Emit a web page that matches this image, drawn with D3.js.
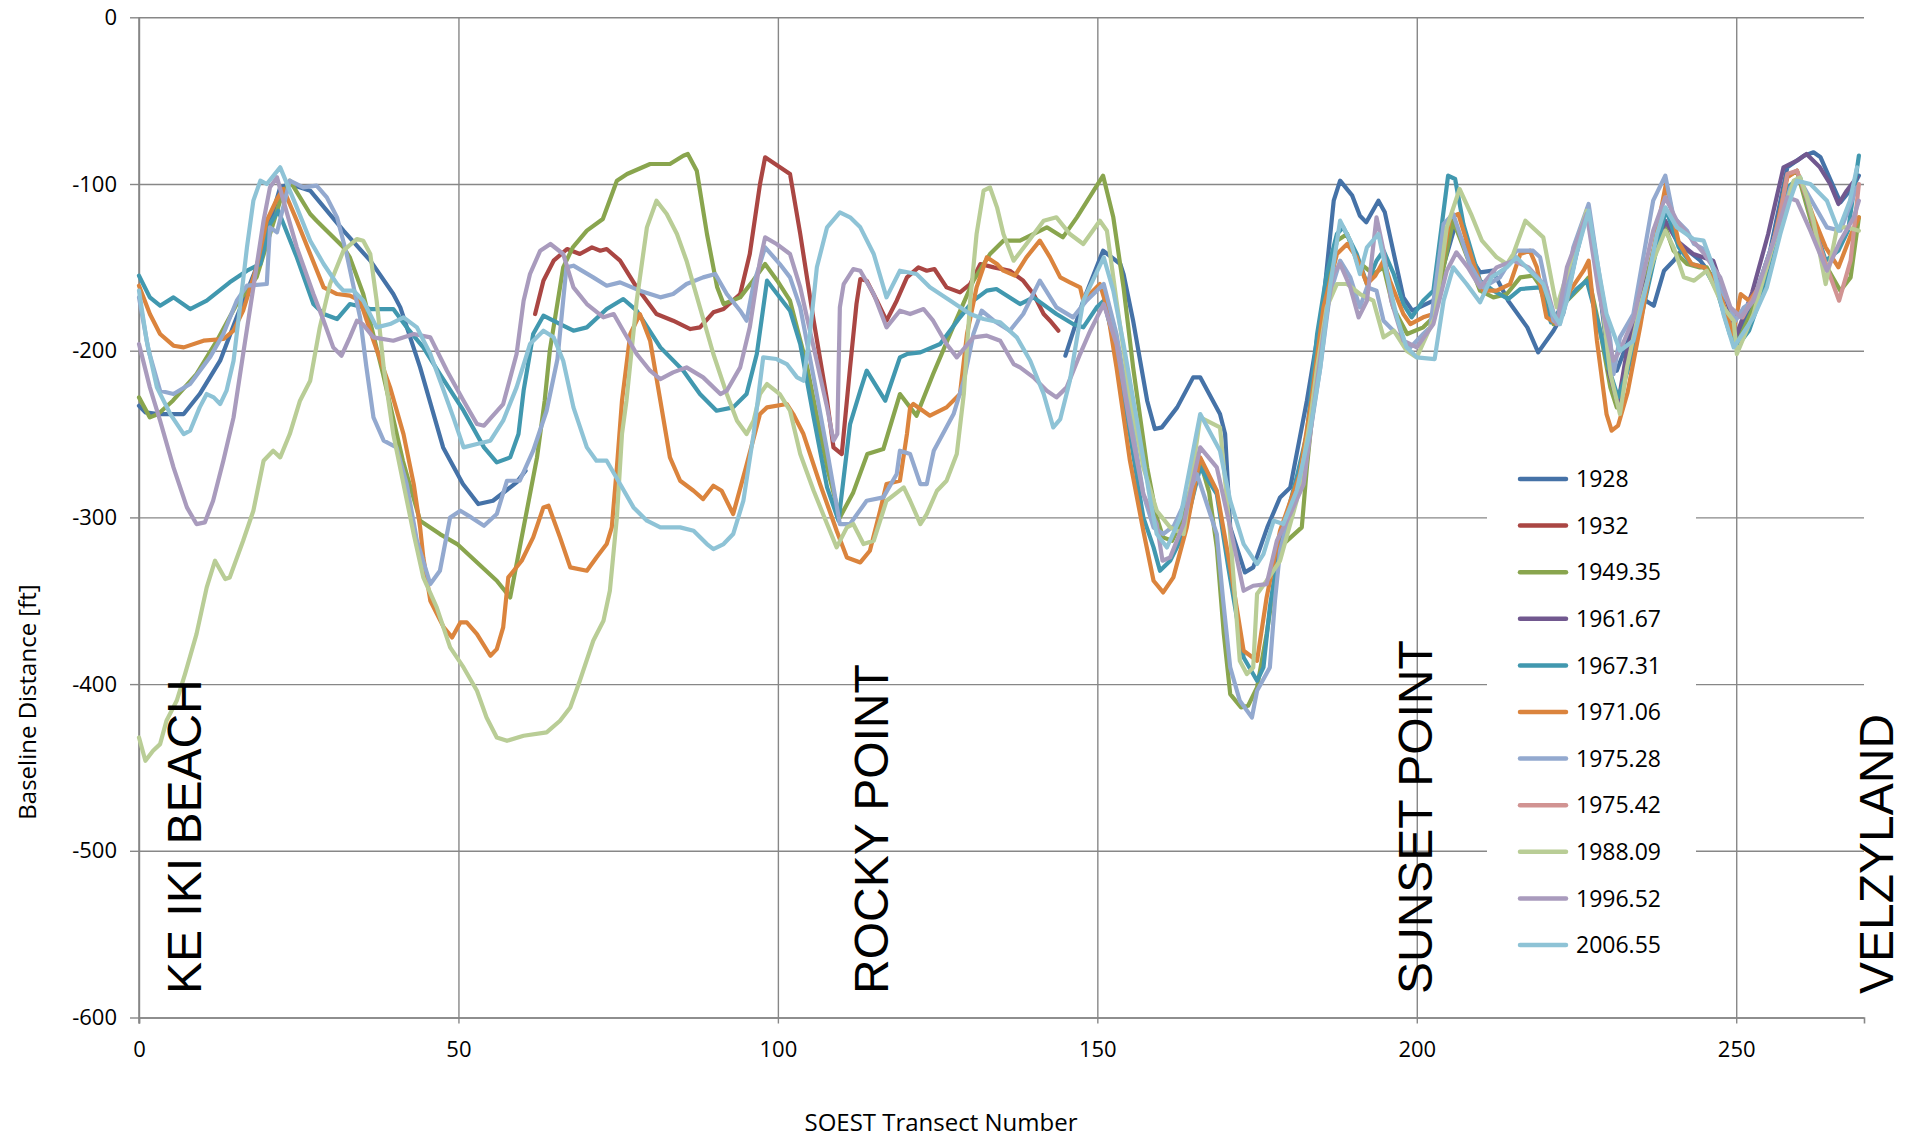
<!DOCTYPE html>
<html><head><meta charset="utf-8">
<script src="https://cdn.jsdelivr.net/npm/d3@7"></script>
<style>
html,body{margin:0;padding:0;background:#fff;}
svg{display:block;}
text{font-family:"Open Sans",sans-serif;fill:#000;}
</style></head>
<body>
<svg id="chart" width="1905" height="1137"></svg>
<script>
// ---------------- DATA ----------------
const years = ["1928","1932","1949.35","1961.67","1967.31","1971.06","1975.28","1975.42","1988.09","1996.52","2006.55"];
const transectTicks = [0,50,100,150,200,250];
const distanceTicks = [0,-100,-200,-300,-400,-500,-600];
const stationNames = ["KE IKI BEACH","ROCKY POINT","SUNSET POINT","VELZYLAND"];

// [transect, baseline distance]; null = gap in survey
const d1928 = [[0,-233],[1,-237],[3,-238],[7,-238],[9.5,-226],[12.7,-206],[15.3,-180],[18.4,-150],[20.5,-123],[22.1,-102],[23.6,-100],[26.8,-104],[32,-128],[36.2,-146],[39.8,-166],[40.9,-174],[44,-210],[47.6,-258],[50.7,-280],[53.1,-292],[55.4,-290],[59.1,-279],[60.5,-272],
 null,
 [145,-203],[147.8,-170],[150.9,-140],[153.6,-148],[154.1,-154],[155.6,-182],[157.8,-230],[159,-247],[160.1,-246],[162.5,-234],[165,-216],[166.1,-216],[169.2,-238],[170,-250],[170.8,-306],[173.1,-333],[174.4,-330],[176.6,-306],[178.6,-288],[180.2,-282],[182.8,-230],[185.4,-170],[187,-110],[188,-98],[189.9,-107],[191.1,-119],[192.1,-123],[194,-110],[195,-117],[196.3,-140],[197.9,-168],[199.3,-176],[202.6,-170],[204.5,-145],[206,-125],[207.8,-140],[209.9,-153],[211.9,-152],[214.3,-170],[217.3,-186],[219,-201],[221.4,-188],[222.9,-178],[224.8,-145],[226.8,-114],[228.5,-160],[229.8,-200],[231.3,-212],[233,-195],[235,-168],[237.1,-173],[238.7,-152],[240.2,-146],[241.8,-138],[244.4,-146],[247.5,-162],[249.5,-178],[250.1,-194],[252.7,-170],[255.3,-140],[258,-90],[260.6,-83],[262.1,-81],[263.2,-84],[264.8,-98],[266.3,-111],[268.4,-101],[269.2,-95]];

const d1932 = [[62,-178],[63.3,-158],[64.9,-146],[67,-139],[69,-142],[70.9,-138],[72.2,-140],[73.2,-139],[75.3,-146],[77.9,-162],[81,-178],[83.6,-182],[86.3,-187],[87.8,-186],[89.9,-177],[91.5,-175],[94.1,-166],[95.6,-142],[97.2,-100],[98,-84],[101.9,-94],[103.5,-130],[105.6,-182],[107.7,-230],[108.7,-258],[110,-262],[111.3,-210],[112.3,-172],[112.9,-157],[113.9,-158],[115.5,-170],[117,-182],[118.6,-170],[120.2,-156],[122,-150],[123.3,-152],[124.5,-151],[126.4,-162],[128.5,-165],[130.1,-160],[131.7,-148],[133.8,-150],[136.3,-152],[138.4,-158],[140,-166],[141.6,-178],[142.6,-182],[143.9,-188]];

const d1949 = [[0,-228],[1.7,-240],[3,-238],[5.3,-230],[9,-214],[12.2,-194],[15.3,-172],[18.4,-156],[20.5,-130],[22.1,-110],[23.6,-98],[26.8,-118],[27.8,-122],[32,-138],[33,-144],[35.1,-166],[38.2,-214],[41.3,-266],[44,-302],[47.1,-310],[49.8,-316],[56,-338],[58.1,-348],[59.6,-318],[62.3,-264],[63.5,-230],[64.3,-200],[66.4,-150],[67.9,-138],[70.1,-128],[72.6,-121],[74.8,-98],[76.4,-94],[80,-88],[83.1,-88],[85.2,-83],[85.9,-82],[87.3,-92],[88.9,-130],[90.5,-162],[91.5,-172],[94.1,-168],[96.1,-158],[98,-148],[99.9,-158],[101.9,-170],[104.6,-210],[107.7,-270],[109.7,-300],[111.8,-285],[114,-262],[116.5,-259],[119.1,-226],[120.7,-234],[121.7,-239],[124.3,-214],[127.4,-186],[130.6,-158],[133.2,-142],[135.3,-134],[137.9,-134],[142.1,-126],[144.6,-132],[146.8,-120],[150.9,-95],[152.5,-120],[154.1,-162],[155.6,-210],[157.8,-270],[159.3,-300],[160.3,-312],[161.7,-314],[163.5,-300],[166,-265],[167.5,-285],[168.7,-318],[169.8,-370],[170.8,-406],[172.5,-414],[173.6,-413],[175,-402],[176.5,-370],[178.2,-326],[179.1,-316],[182,-306],[182.8,-270],[184.4,-210],[186,-162],[187.5,-134],[189.1,-130],[190.6,-146],[193.2,-154],[194.8,-150],[196.3,-174],[198.5,-190],[201,-186],[202.6,-180],[205.7,-122],[207.3,-138],[209.9,-164],[212,-168],[214.1,-166],[216.2,-156],[218.2,-155],[219.8,-164],[221.4,-184],[223.5,-170],[225.6,-162],[226.9,-156],[228.7,-188],[230.3,-222],[231.3,-234],[232,-230],[234.4,-180],[237,-140],[238.9,-126],[240.2,-140],[242.3,-148],[244.3,-150],[245.4,-150],[247,-162],[248.5,-180],[250.1,-196],[252.7,-174],[255.3,-150],[257.9,-96],[259.5,-92],[262.1,-128],[264.2,-150],[266.3,-164],[267.9,-156],[269.2,-120]];

const d1961 = [[230,-212],[231.5,-232],[232.9,-200],[235,-170],[237.6,-138],[238.9,-122],[240.7,-134],[243.3,-142],[246.4,-146],[248.5,-170],[250.1,-190],[252.5,-165],[255,-130],[257.4,-90],[259.5,-86],[261,-82],[263.1,-90],[264.7,-100],[266,-112],[267.3,-104],[268.9,-96]];

const d1967 = [[0,-155],[1.7,-168],[3.3,-173],[5.4,-168],[8,-175],[10.6,-170],[14.2,-159],[16.9,-152],[19,-148],[20.5,-124],[21.8,-116],[24.7,-144],[27.3,-172],[28.9,-178],[31,-181],[33,-172],[36.2,-175],[39.8,-175],[41.9,-186],[44.5,-198],[47.1,-214],[50.8,-236],[54,-258],[56,-267],[58.1,-264],[59.4,-250],[60.2,-224],[61.7,-190],[63.3,-179],[66.4,-185],[68,-188],[70.1,-186],[73.2,-175],[75.8,-169],[77.9,-176],[81.6,-198],[85.2,-212],[87.8,-226],[90.4,-236],[93,-234],[95.1,-226],[96.7,-202],[98.3,-158],[101.9,-176],[103.5,-196],[105.6,-240],[107.7,-282],[109.5,-302],[110.3,-276],[111.3,-244],[112.9,-224],[113.9,-212],[116.8,-230],[119.1,-204],[120.2,-202],[122.3,-201],[125.4,-196],[128.5,-180],[130.6,-170],[132.7,-164],[134.2,-163],[137.9,-172],[140,-168],[143.6,-178],[146.2,-184],[147.8,-186],[149.9,-174],[151,-170],[153,-200],[155.1,-250],[157.2,-300],[158.8,-318],[159.8,-332],[161.4,-326],[163.5,-310],[166.1,-270],[168.7,-286],[170.5,-330],[172.9,-384],[175,-398],[176,-390],[177,-354],[178.6,-314],[181.2,-276],[182.8,-250],[184.4,-190],[185.9,-154],[187.5,-130],[188.5,-126],[190.6,-142],[192.2,-160],[193.7,-146],[194.8,-140],[196.4,-154],[197.9,-172],[199.2,-180],[201,-170],[202.6,-164],[204.9,-95],[206,-97],[207.3,-124],[209.9,-158],[212,-164],[214.3,-169],[216.2,-163],[219.3,-162],[221,-183],[223,-172],[225,-163],[226.6,-158],[228.5,-185],[230,-210],[231.5,-228],[233,-212],[235,-182],[237,-148],[239,-115],[241,-138],[243,-148],[245,-150],[247,-164],[249,-190],[250,-198],[252,-188],[254,-166],[256,-135],[258,-102],[260,-96],[262,-122],[264,-146],[266,-140],[267.5,-128],[269.2,-83]];

const d1971 = [[0,-161],[1.7,-178],[3.3,-190],[5.4,-197],[7,-198],[10.1,-194],[13.2,-193],[14.8,-188],[16.3,-176],[18.4,-150],[20,-122],[21.6,-109],[22.6,-103],[24.7,-122],[26.8,-142],[28.9,-162],[31,-166],[33,-167],[34.6,-170],[36.7,-194],[39.3,-222],[41.4,-250],[43,-280],[44,-306],[44.5,-324],[45.6,-350],[47.7,-366],[49,-372],[50.3,-363],[51.3,-363],[52.9,-370],[55,-383],[56,-379],[57,-366],[57.8,-336],[59.9,-326],[61.7,-312],[63.3,-294],[64.1,-293],[65.9,-312],[67.5,-330],[70.1,-332],[71.6,-324],[73.2,-316],[74,-306],[74.8,-270],[75.6,-230],[76.9,-190],[78.4,-178],[80,-194],[81.6,-230],[83.1,-264],[84.7,-278],[86.8,-284],[88.3,-289],[89.9,-281],[91.2,-284],[93,-298],[95,-270],[97.2,-238],[98.3,-234],[101.4,-232],[102.4,-238],[104,-250],[106.6,-280],[109.2,-308],[110.8,-324],[112.9,-327],[114.4,-320],[116,-296],[117,-280],[119.1,-278],[120.2,-250],[120.7,-234],[121.2,-232],[123.8,-239],[126.4,-234],[128.5,-226],[129.6,-190],[131.1,-162],[132.7,-144],[134.3,-148],[135.3,-152],[137.1,-155],[138.9,-144],[141,-134],[142.6,-144],[144.2,-156],[145.7,-159],[147.3,-162],[147.8,-170],[150.4,-160],[151.5,-174],[153,-210],[155.1,-266],[157.2,-308],[158.8,-338],[160.3,-345],[161.9,-336],[164,-306],[166.1,-264],[168.7,-284],[170.8,-330],[172.9,-380],[175,-386],[176.5,-348],[178.6,-308],[181.7,-274],[183.5,-230],[185.4,-174],[187.5,-142],[189.1,-136],[190.6,-144],[192.2,-160],[193.5,-155],[194.8,-146],[195.8,-158],[197.9,-178],[199,-184],[201,-180],[202.6,-178],[205.2,-120],[206.5,-118],[208.9,-148],[210.4,-164],[212.5,-164],[214.6,-160],[216.2,-142],[217.7,-140],[218.8,-150],[220.3,-180],[221.9,-184],[224,-164],[226.1,-152],[226.9,-146],[228.2,-194],[229.7,-238],[230.5,-248],[231.5,-245],[233,-225],[235,-185],[237,-140],[239,-100],[241,-135],[243,-148],[245,-150],[247,-160],[249.5,-190],[250.7,-166],[252,-170],[254,-160],[256,-132],[258,-96],[259.5,-92],[262.1,-120],[264,-138],[266,-150],[268,-130],[269.2,-120]];

const d1975a = [[0,-168],[1.5,-200],[3.3,-224],[5.4,-226],[8,-220],[11.1,-204],[13.2,-190],[15.3,-170],[16.9,-161],[20,-160],[20.5,-126],[21.6,-129],[23.6,-98],[25.7,-102],[27.8,-101],[29.4,-108],[31,-120],[32.5,-142],[34.6,-180],[35.6,-210],[36.7,-240],[38.3,-254],[40.3,-258],[41.9,-280],[43.5,-314],[45.6,-340],[47.1,-332],[48.7,-300],[50.3,-296],[52,-300],[54,-305],[56,-298],[57.6,-278],[59.6,-278],[61.7,-260],[63.8,-236],[65.5,-205],[66.9,-150],[68,-149],[71.1,-156],[73.2,-161],[75.3,-159],[78.4,-164],[81.6,-168],[83.6,-166],[85.7,-160],[88.3,-156],[90.2,-154],[92,-166],[94.1,-176],[95.1,-182],[96.2,-160],[98,-138],[100.3,-148],[101.9,-156],[103.5,-174],[105.6,-216],[107.7,-260],[109.7,-304],[111.3,-304],[113.9,-290],[116.5,-288],[118.6,-274],[119.1,-260],[120.7,-262],[122.3,-280],[123.3,-280],[124.4,-260],[127.5,-238],[129.1,-218],[130.6,-190],[131.9,-176],[133.8,-182],[136.3,-188],[138.4,-178],[141,-158],[143.6,-174],[146.2,-180],[148.3,-170],[151,-160],[153,-190],[155.1,-236],[157.2,-286],[158.8,-306],[160.3,-310],[162,-305],[163.8,-290],[165.6,-274],[168.7,-310],[169.7,-350],[170.8,-390],[172.3,-410],[174.2,-420],[175,-404],[177,-390],[177.8,-350],[178.6,-320],[180.2,-296],[182.3,-274],[183.3,-250],[184.9,-210],[186.4,-166],[188,-146],[189.6,-156],[191.1,-174],[192.2,-162],[193.7,-164],[194.8,-182],[197.9,-194],[199,-198],[201,-190],[202.1,-186],[204.2,-124],[205.7,-118],[208.3,-148],[210.4,-162],[213,-156],[215.6,-140],[218.2,-140],[219.3,-144],[221.4,-182],[222.4,-184],[224.5,-138],[226.9,-112],[228.7,-158],[230.3,-194],[230.8,-214],[231.8,-192],[233.9,-178],[237,-110],[238.9,-95],[240.2,-120],[242.3,-128],[243.4,-136],[245.4,-140],[247,-158],[248.6,-170],[249.9,-182],[251.2,-174],[252.7,-170],[254.8,-146],[256.9,-122],[258.5,-102],[260,-98],[262.1,-112],[264.2,-126],[266.3,-128],[268.9,-102]];

const d1975b = [[251,-180],[252.7,-168],[254.8,-150],[256.9,-118],[258,-94],[259.5,-92],[261,-108],[262.5,-130],[264.2,-150],[266.1,-170],[267.9,-146],[269.2,-100]];

const d1988 = [[0,-432],[1,-446],[2.2,-440],[3.3,-436],[4.3,-422],[5.9,-410],[7.2,-394],[9,-370],[10.6,-342],[11.9,-326],[13.5,-337],[14.2,-336],[16.3,-314],[17.9,-296],[19.5,-266],[21,-260],[22.1,-264],[23.6,-250],[25.2,-230],[26.8,-218],[28.3,-186],[29.9,-160],[32,-140],[34.1,-133],[35.1,-134],[36.2,-142],[37.2,-170],[38.3,-210],[39.8,-250],[41.4,-280],[43,-310],[44.5,-336],[46.6,-354],[48.7,-378],[50.8,-390],[52.9,-404],[54.4,-420],[56,-432],[57.6,-434],[60.2,-431],[63.8,-429],[65.9,-422],[67.5,-414],[69,-398],[71.1,-374],[72.7,-362],[73.7,-344],[74.8,-300],[75.6,-250],[76.3,-230],[77.9,-170],[79.5,-126],[81,-110],[82.6,-118],[84.2,-130],[85.7,-146],[87.8,-174],[89.9,-202],[92,-226],[93.6,-242],[95.1,-250],[96.2,-242],[97.2,-226],[98.3,-220],[100.3,-226],[101.9,-236],[103.5,-262],[105.6,-284],[107.7,-304],[109.2,-318],[110.8,-306],[111.8,-304],[113.4,-316],[115,-314],[117,-290],[119.7,-282],[120.7,-290],[122.3,-304],[123.3,-298],[124.9,-284],[126.4,-278],[128,-262],[129.1,-226],[130.1,-170],[131.1,-130],[132.2,-104],[133.2,-102],[134.3,-114],[135.3,-130],[136.9,-146],[138.9,-136],[141.6,-122],[143.6,-120],[145.7,-130],[147.8,-136],[150.4,-122],[151.5,-128],[153,-170],[155.1,-226],[157.2,-270],[159.3,-296],[161.4,-306],[163.5,-310],[166.1,-240],[169.2,-246],[170.8,-310],[172.3,-386],[173.4,-394],[174.4,-390],[175,-346],[176.5,-338],[178.6,-326],[181.2,-290],[183.3,-242],[184.4,-210],[185.9,-174],[187.5,-160],[189.1,-160],[191.1,-166],[193.2,-170],[194.8,-192],[196.4,-188],[198.4,-200],[200,-204],[202.8,-180],[204.7,-126],[206.7,-103],[208.5,-118],[210.2,-134],[212.5,-144],[214.1,-148],[215.1,-142],[217,-122],[219.8,-132],[221.9,-174],[223.5,-154],[226.6,-116],[228.7,-162],[230.3,-214],[231.8,-238],[232.9,-210],[234.9,-174],[237,-146],[238.9,-128],[240.2,-138],[241.8,-156],[243.4,-158],[245.4,-152],[248,-174],[249.6,-182],[250.1,-202],[252.7,-178],[255.5,-140],[259,-98],[260,-96],[261.1,-108],[262.1,-122],[264,-160],[265.8,-126],[267.4,-126],[269.2,-128]];

const d1996 = [[0,-196],[1.7,-222],[3.3,-242],[5.4,-270],[7.5,-294],[9,-304],[10.3,-303],[11.6,-290],[13.2,-266],[14.8,-240],[16.3,-202],[17.9,-162],[19.5,-122],[20.5,-102],[21.6,-96],[22.6,-110],[24.7,-138],[27.3,-166],[28.9,-182],[30.4,-198],[31.7,-203],[33,-192],[34.1,-182],[35,-184],[36.7,-192],[39.8,-194],[43,-190],[45.6,-192],[48.2,-212],[50.8,-230],[52.9,-244],[54,-245],[57,-232],[59.1,-202],[60.2,-170],[61.2,-154],[62.8,-140],[64.4,-136],[66.4,-142],[68,-162],[70.1,-172],[72.7,-180],[74.3,-178],[75.8,-188],[77.9,-202],[80,-212],[81.6,-217],[83.6,-213],[85.7,-210],[88.3,-216],[91,-226],[92,-224],[94.1,-210],[95.6,-186],[97.2,-146],[98,-132],[99.8,-136],[101.9,-142],[103.5,-162],[105.6,-198],[107.7,-234],[108.7,-254],[109.3,-250],[109.7,-174],[110.3,-160],[111.8,-151],[112.9,-152],[115,-166],[117,-186],[119.1,-176],[120.7,-178],[122.8,-175],[124.3,-182],[126.4,-196],[128,-204],[130.6,-192],[132.7,-191],[134.8,-194],[136.9,-208],[137.9,-210],[140,-216],[142.1,-224],[143.6,-228],[145.2,-222],[147.3,-202],[148.9,-188],[151,-172],[153,-196],[155.1,-244],[157.2,-286],[159.3,-304],[160.2,-326],[161.4,-324],[163.5,-304],[166.1,-258],[168.7,-270],[170.8,-306],[172.9,-344],[174.4,-341],[176.5,-340],[178.1,-314],[180.2,-298],[182.3,-280],[184,-230],[185.4,-190],[186.9,-154],[188,-148],[189.6,-162],[190.9,-180],[192.2,-170],[193.7,-120],[194.8,-140],[196,-170],[197.9,-194],[200,-198],[202.6,-184],[204.7,-152],[206.2,-141],[208,-150],[209.9,-162],[212.5,-150],[215.1,-146],[217.5,-150],[220.3,-162],[221.9,-184],[223.5,-150],[226.6,-118],[228.5,-165],[230.8,-206],[231.8,-200],[234,-180],[237,-128],[238.9,-108],[240.7,-122],[242.8,-132],[245,-142],[247.5,-156],[249.1,-174],[250.7,-180],[252.7,-170],[255.9,-134],[258,-108],[259.5,-110],[261.6,-128],[264.2,-152],[266.3,-134],[268.4,-120],[269.2,-110]];

const d2006 = [[0,-164],[1.2,-194],[2.8,-222],[4.9,-238],[7,-250],[8,-248],[9.5,-234],[10.6,-226],[11.7,-228],[12.7,-232],[13.7,-224],[14.8,-206],[15.8,-174],[16.9,-138],[17.9,-110],[19,-98],[20,-100],[22.1,-90],[24.7,-114],[26.8,-134],[28.9,-148],[31,-160],[32,-164],[33.6,-164],[35.1,-170],[37.2,-186],[39.3,-184],[41.4,-180],[43.5,-186],[45.6,-202],[47.7,-224],[49.2,-240],[50.8,-258],[52.9,-256],[55,-254],[57,-242],[59.1,-222],[61.2,-196],[63.3,-188],[64.9,-192],[66.4,-206],[68,-234],[70.1,-258],[71.6,-266],[73.2,-266],[75.3,-280],[77.4,-294],[79.5,-302],[81.6,-306],[84.7,-306],[86.8,-308],[88.9,-316],[89.9,-319],[91.5,-316],[93,-310],[94.6,-290],[96.2,-250],[97.7,-204],[99.8,-205],[101.4,-208],[103,-216],[104,-218],[105,-190],[106.1,-150],[107.7,-126],[109.7,-117],[111.3,-120],[112.9,-126],[115,-142],[117,-168],[119.1,-152],[121.7,-154],[123.8,-162],[127,-170],[130.1,-178],[132.2,-181],[134.8,-183],[137.4,-192],[139.5,-206],[141.6,-226],[143.1,-246],[144.2,-241],[145.7,-218],[147.8,-170],[151,-144],[152.5,-164],[154.1,-196],[156.2,-242],[158.3,-290],[159.3,-310],[160.9,-318],[163,-300],[164.5,-270],[166.1,-238],[169.2,-260],[170.8,-290],[172.9,-316],[175,-328],[176,-322],[177.6,-302],[179.1,-304],[181.2,-284],[183.3,-248],[184.9,-210],[186.4,-162],[188,-122],[189.6,-134],[191.1,-154],[192.2,-138],[194,-130],[195.3,-154],[196.9,-180],[198.4,-198],[200,-204],[202.8,-205],[204.2,-170],[205.7,-150],[207.8,-160],[209.9,-171],[211.7,-156],[214.1,-150],[215.6,-144],[217.7,-152],[219.8,-160],[221.4,-178],[222.4,-184],[223.5,-170],[225,-142],[226.9,-116],[228.2,-146],[229.7,-178],[231.8,-200],[233.9,-194],[236,-160],[237.6,-130],[238.9,-114],[240.7,-126],[243.3,-133],[244.9,-134],[246.4,-150],[248,-178],[249.6,-198],[252.7,-180],[254.8,-162],[256.9,-130],[258.4,-110],[259.5,-98],[261.6,-100],[264.2,-110],[266,-128],[267.8,-110],[268.9,-90]];

const seriesValues = [d1928,d1932,d1949,d1961,d1967,d1971,d1975a,d1975b,d1988,d1996,d2006];

// ---------------- STYLE ----------------
const colors = ["#4572A7","#AA4643","#89A54E","#71588F","#4198AF","#DB843D","#93A9CF","#D19392","#B9CD96","#A99BBD","#8EC3D6"];

const svg = d3.select("#chart");
const x = d3.scaleLinear().domain([0,270]).range([139,1864]);
const y = d3.scaleLinear().domain([-600,0]).range([1017.5,17.3]);
const gridColor = "#878787";
const fmt = d => String(d);

// horizontal gridlines + y axis
const yAxis = svg.append("g").attr("transform","translate(139,0)")
  .call(d3.axisLeft(y).tickValues(distanceTicks).tickSize(9).tickFormat(fmt));
yAxis.select(".domain").remove();
yAxis.selectAll(".tick line").attr("stroke",gridColor).attr("stroke-width",1.4);
yAxis.selectAll(".tick").append("line").attr("x1",0).attr("x2",x(270)-139)
  .attr("stroke",gridColor).attr("stroke-width",1.4);
yAxis.selectAll(".tick text").attr("x",-22).style("font-size","22px").style("font-family","Open Sans").attr("fill","#000");

// vertical gridlines + x axis
const xAxis = svg.append("g").attr("transform",`translate(0,${y(-600)})`)
  .call(d3.axisBottom(x).tickValues(transectTicks).tickSize(6).tickFormat(fmt));
xAxis.select(".domain").attr("stroke",gridColor).attr("stroke-width",1.6);
xAxis.selectAll(".tick line").attr("stroke",gridColor).attr("stroke-width",1.4);
xAxis.selectAll(".tick").append("line").attr("y1",0).attr("y2",y(0)-y(-600))
  .attr("stroke",gridColor).attr("stroke-width",1.4);
xAxis.selectAll(".tick text").attr("y",24).style("font-size","22px").style("font-family","Open Sans").attr("fill","#000");

// y axis line
svg.append("line").attr("x1",139).attr("x2",139).attr("y1",y(0)).attr("y2",y(-600)+6)
  .attr("stroke",gridColor).attr("stroke-width",1.6);

// series lines
const line = d3.line().defined(d => d !== null).x(d => x(d[0])).y(d => y(d[1]));
svg.append("g").selectAll("path").data(seriesValues).join("path")
  .attr("d", line)
  .attr("fill","none")
  .attr("stroke",(d,i)=>colors[i])
  .attr("stroke-width",4.2)
  .attr("stroke-linejoin","round")
  .attr("stroke-linecap","round");

// station labels
const stationPos = [9.7,117.2,202.4,274.6];
svg.append("g").selectAll("text").data(stationNames).join("text")
  .attr("transform",(d,i)=>`translate(${x(stationPos[i])},994) rotate(-90)`)
  .style("font-family","'Liberation Sans',Arial,sans-serif")
  .style("font-size","48px")
  .text(d=>d);

// axis titles
svg.append("text").attr("x",941).attr("y",1131).attr("text-anchor","middle")
  .style("font-size","24px").text("SOEST Transect Number");
svg.append("text").attr("transform","translate(36,702) rotate(-90)").attr("text-anchor","middle")
  .style("font-size","24px").text("Baseline Distance [ft]");

// legend
const lg = svg.append("g");
lg.append("rect").attr("x",1487).attr("y",452).attr("width",209).attr("height",520).attr("fill","#fff");
const items = lg.selectAll("g").data(years).join("g")
  .attr("transform",(d,i)=>`translate(0,${479 + i*46.6})`);
items.append("line").attr("x1",1520).attr("x2",1566).attr("stroke",(d,i)=>colors[i])
  .attr("stroke-width",4.5).attr("stroke-linecap","round");
items.append("text").attr("x",1576).attr("dy","0.36em").style("font-size","23px").text(d=>d);
</script>
</body></html>
